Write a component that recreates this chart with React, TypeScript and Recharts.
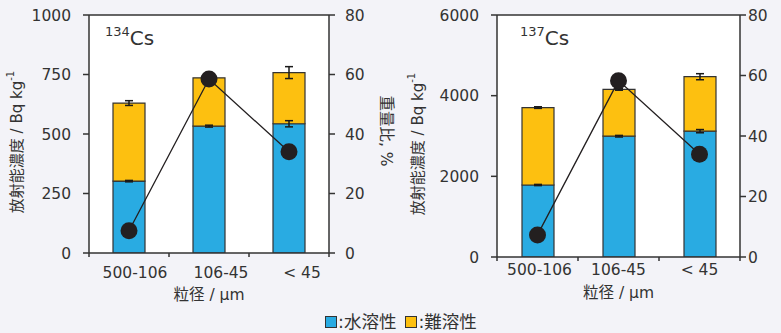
import React from 'react';
import {
  ComposedChart,
  Bar,
  Line,
  XAxis,
  YAxis,
  ErrorBar,
  CartesianGrid,
  ReferenceLine,
  Label,
} from 'recharts';

// Particle size classes (µm)
const sizeClasses = ['500-106', '106-45', '< 45'];

// 134Cs activity concentration (Bq/kg): water-soluble and poorly-soluble parts
const cs134Soluble = [302, 533, 543];
const cs134SolubleErr = [3, 4, 13];
const cs134Insoluble = [328, 203, 215];
const cs134InsolubleErr = [10, 4, 25];
const cs134WeightRatio = [7.5, 58.5, 34];

// 137Cs activity concentration (Bq/kg)
const cs137Soluble = [1785, 2995, 3120];
const cs137SolubleErr = [15, 20, 40];
const cs137Insoluble = [1920, 1160, 1350];
const cs137InsolubleErr = [20, 20, 75];
const cs137WeightRatio = [7.3, 58.3, 34];

const leftTicks134 = [0, 250, 500, 750, 1000];
const leftTicks137 = [0, 2000, 4000, 6000];
const ratioTicks = [0, 20, 40, 60, 80];

const BLUE = '#29abe2';
const YELLOW = '#fdc010';
const INK = '#333333';
const FONT = '"DejaVu Sans", "Noto Sans CJK JP", sans-serif';

type Row = {
  size: string;
  soluble: number;
  solubleErr: number;
  insoluble: number;
  insolubleErr: number;
  ratio: number;
};

function buildRows(
  sol: number[],
  solErr: number[],
  insol: number[],
  insolErr: number[],
  ratio: number[]
): Row[] {
  return sizeClasses.map((size, i) => ({
    size,
    soluble: sol[i],
    solubleErr: solErr[i],
    insoluble: insol[i],
    insolubleErr: insolErr[i],
    ratio: ratio[i],
  }));
}

const rows134 = buildRows(cs134Soluble, cs134SolubleErr, cs134Insoluble, cs134InsolubleErr, cs134WeightRatio);
const rows137 = buildRows(cs137Soluble, cs137SolubleErr, cs137Insoluble, cs137InsolubleErr, cs137WeightRatio);

// Category tick: label in the band centre, tick marks on the band edges
function makeSizeTick(labelDx: number[], labelDy: number) {
  return function SizeTick(props: any) {
    const { x, y, payload, index, visibleTicksCount } = props;
    const half = payload && payload.offset != null ? payload.offset : 40;
    const last = index === visibleTicksCount - 1;
    return (
      <g>
        <line x1={x - half} x2={x - half} y1={y} y2={y + 4} stroke={INK} strokeWidth={1.5} />
        {last && <line x1={x + half} x2={x + half} y1={y} y2={y + 4} stroke={INK} strokeWidth={1.5} />}
        <text
          x={x + (labelDx[index] || 0)}
          y={y + labelDy}
          textAnchor="middle"
          fill={INK}
          fontSize={15.5}
          fontFamily={FONT}
        >
          {payload.value}
        </text>
      </g>
    );
  };
}

type PanelProps = {
  rows: Row[];
  left: number;
  width: number;
  leftAxisWidth: number;
  rightAxisWidth: number;
  bottomMargin: number;
  yMax: number;
  yTicks: number[];
  mass: string;
  massDx: number;
  labelDx: number[];
  labelDy: number;
  titleY: number;
  yTitleX: number;
  showRatioTitle: boolean;
  rightTickMargin: number;
};

function Panel(p: PanelProps) {
  const SizeTick = makeSizeTick(p.labelDx, p.labelDy);
  return (
    <div style={{ position: 'absolute', left: p.left, top: 0 }}>
      <ComposedChart
        width={p.width}
        height={333}
        data={p.rows}
        margin={{ top: 15, right: 0, bottom: p.bottomMargin, left: 0 }}
        barCategoryGap={0}
      >
        <CartesianGrid fill="#ffffff" horizontal={false} vertical={false} />
        <XAxis
          dataKey="size"
          height={50}
          axisLine={{ stroke: INK, strokeWidth: 1.5 }}
          tickLine={false}
          tickSize={0}
          tickMargin={0}
          interval={0}
          tick={SizeTick}
        >
          <Label
            content={(lp: any) => {
              const vb = lp.viewBox;
              return (
                <text
                  x={vb.x + vb.width / 2}
                  y={vb.y + p.titleY}
                  textAnchor="middle"
                  fill={INK}
                  fontSize={15.5}
                  fontFamily={FONT}
                >
                  粒径 / μm
                </text>
              );
            }}
          />
        </XAxis>
        <YAxis
          yAxisId="left"
          width={p.leftAxisWidth}
          domain={[0, p.yMax]}
          ticks={p.yTicks}
          interval={0}
          allowDataOverflow
          axisLine={{ stroke: INK, strokeWidth: 1.5 }}
          tickLine={{ stroke: INK, strokeWidth: 1.5 }}
          tickSize={6}
          tickMargin={12}
          tick={{ fill: INK, fontSize: 15.5, fontFamily: FONT }}
        >
          <Label
            content={(lp: any) => {
              const vb = lp.viewBox;
              const cx = vb.x + p.yTitleX;
              const cy = vb.y + vb.height / 2 + 8;
              return (
                <text
                  x={cx}
                  y={cy}
                  transform={`rotate(-90 ${cx} ${cy})`}
                  textAnchor="middle"
                  dominantBaseline="central"
                  fill={INK}
                  fontSize={15}
                  fontFamily={FONT}
                >
                  放射能濃度 / Bq kg
                  <tspan fontSize={10} dy={-7}>-1</tspan>
                </text>
              );
            }}
          />
        </YAxis>
        <YAxis
          yAxisId="right"
          orientation="right"
          width={p.rightAxisWidth}
          domain={[0, 80]}
          ticks={ratioTicks}
          interval={0}
          axisLine={{ stroke: INK, strokeWidth: 1.5 }}
          tickLine={{ stroke: INK, strokeWidth: 1.5 }}
          tickSize={6}
          tickMargin={p.rightTickMargin}
          tick={{ fill: INK, fontSize: 15.5, fontFamily: FONT, textAnchor: 'start' }}
        >
          {p.showRatioTitle && (
            <Label
              content={(lp: any) => {
                const vb = lp.viewBox;
                const cx = vb.x + 57;
                const cy = vb.y + vb.height / 2 - 3;
                return (
                  <text
                    x={cx}
                    y={cy}
                    transform={`rotate(90 ${cx} ${cy})`}
                    textAnchor="middle"
                    dominantBaseline="central"
                    fill={INK}
                    fontSize={15.5}
                    fontFamily={FONT}
                  >
                    重量比, %
                  </text>
                );
              }}
            />
          )}
        </YAxis>
        <ReferenceLine yAxisId="left" y={p.yMax} stroke={INK} strokeWidth={1.5} />
        <ReferenceLine
          yAxisId="left"
          y={p.yMax}
          stroke="none"
          label={(lp: any) => {
            const vb = lp.viewBox;
            return (
              <text x={vb.x + p.massDx} y={vb.y + 30} fill={INK} fontFamily={FONT}>
                <tspan fontSize={13} dy={-9}>{p.mass}</tspan>
                <tspan fontSize={20} dy={9}>Cs</tspan>
              </text>
            );
          }}
        />
        <Bar
          yAxisId="left"
          dataKey="soluble"
          stackId="cs"
          fill={BLUE}
          stroke={INK}
          strokeWidth={1.2}
          barSize={32}
          isAnimationActive={false}
        >
          <ErrorBar dataKey="solubleErr" width={4} stroke="#1a1a1a" strokeWidth={1.5} direction="y" />
        </Bar>
        <Bar
          yAxisId="left"
          dataKey="insoluble"
          stackId="cs"
          fill={YELLOW}
          stroke={INK}
          strokeWidth={1.2}
          barSize={32}
          isAnimationActive={false}
        >
          <ErrorBar dataKey="insolubleErr" width={4} stroke="#1a1a1a" strokeWidth={1.5} direction="y" />
        </Bar>
        <Line
          yAxisId="right"
          dataKey="ratio"
          stroke="#231f20"
          strokeWidth={1.3}
          dot={{ r: 8.5, fill: '#231f20', stroke: '#231f20', strokeWidth: 0 }}
          activeDot={false}
          isAnimationActive={false}
        />
      </ComposedChart>
    </div>
  );
}

function LegendItem({ color, text }: { color: string; text: string }) {
  return (
    <span style={{ display: 'inline-flex', alignItems: 'center', marginRight: 9 }}>
      <span
        style={{
          display: 'inline-block',
          width: 10,
          height: 10,
          background: color,
          border: `1.5px solid ${INK}`,
        }}
      />
      <span style={{ marginLeft: 1 }}>{text}</span>
    </span>
  );
}

export default function App() {
  return (
    <div
      style={{
        position: 'absolute',
        left: 0,
        top: 0,
        width: 781,
        height: 333,
        background: '#f3f3f8',
        overflow: 'hidden',
        fontFamily: FONT,
      }}
    >
      <Panel
        rows={rows134}
        left={0}
        width={400}
        leftAxisWidth={89}
        rightAxisWidth={71}
        bottomMargin={30}
        yMax={1000}
        yTicks={leftTicks134}
        mass="134"
        massDx={16}
        labelDx={[6, 12, 13]}
        labelDy={25}
        titleY={47}
        yTitleX={17}
        showRatioTitle
        rightTickMargin={10}
      />
      <Panel
        rows={rows137}
        left={390}
        width={391}
        leftAxisWidth={107}
        rightAxisWidth={41}
        bottomMargin={26}
        yMax={6000}
        yTicks={leftTicks137}
        mass="137"
        massDx={23}
        labelDx={[2, 0, 0]}
        labelDy={18}
        titleY={41}
        yTitleX={28}
        showRatioTitle={false}
        rightTickMargin={2}
      />
      <div
        style={{
          position: 'absolute',
          left: 325,
          top: 313,
          fontSize: 17.5,
          color: INK,
          display: 'flex',
          whiteSpace: 'nowrap',
          lineHeight: '18px',
        }}
      >
        <LegendItem color={BLUE} text=":水溶性" />
        <LegendItem color={YELLOW} text=":難溶性" />
      </div>
    </div>
  );
}
